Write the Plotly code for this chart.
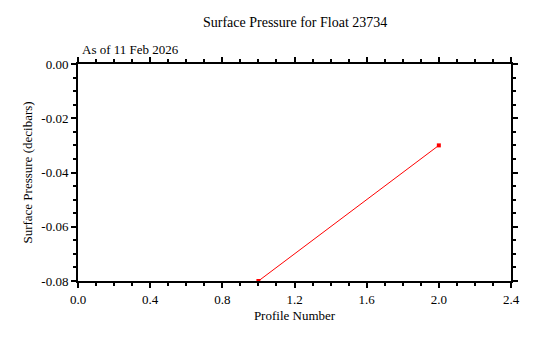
import plotly.graph_objects as go

profile_number = [1, 2]
surface_pressure = [-0.08, -0.03]

x_tick_vals = [0.0, 0.4, 0.8, 1.2, 1.6, 2.0, 2.4]
x_tick_text = ["0.0", "0.4", "0.8", "1.2", "1.6", "2.0", "2.4"]
y_tick_vals = [0.0, -0.02, -0.04, -0.06, -0.08]
y_tick_text = ["0.00", "-0.02", "-0.04", "-0.06", "-0.08"]

title_text = "Surface Pressure for Float 23734"
subtitle_text = "As of 11 Feb 2026"
x_title = "Profile Number"
y_title = "Surface Pressure (decibars)"

FONT = "Liberation Serif, Times New Roman, serif"

fig = go.Figure()
fig.add_trace(go.Scatter(
    x=profile_number, y=surface_pressure,
    mode="lines+markers",
    line=dict(color="#ff0000", width=1),
    marker=dict(color="#ff0000", size=4, symbol="square"),
    cliponaxis=False,
    showlegend=False,
))

axis_common = dict(
    showline=True, linecolor="black", linewidth=2,
    mirror="allticks", ticks="outside", ticklen=5, tickwidth=1.5, tickcolor="black",
    showgrid=False, zeroline=False,
    tickfont=dict(family=FONT, size=13, color="black"),
)

fig.update_layout(
    width=534, height=338,
    margin=dict(l=78, r=23, t=64, b=57),
    paper_bgcolor="white", plot_bgcolor="white",
    font=dict(family=FONT, size=13, color="black"),
    xaxis=dict(
        range=[0, 2.4], tickvals=x_tick_vals, ticktext=x_tick_text,
        minor=dict(dtick=0.1, tick0=0, ticks="outside", ticklen=3, tickcolor="black", tickwidth=1.5),
        title=dict(text=x_title, font=dict(family=FONT, size=13), standoff=5),
        **axis_common,
    ),
    yaxis=dict(
        range=[-0.08, 0], tickvals=y_tick_vals, ticktext=y_tick_text,
        minor=dict(dtick=0.005, tick0=0, ticks="outside", ticklen=3, tickcolor="black", tickwidth=1.5),
        title=dict(text=y_title, font=dict(family=FONT, size=13), standoff=6),
        **axis_common,
    ),
    annotations=[
        dict(text=title_text, xref="paper", yref="paper", x=0.5, y=1, yshift=42,
             xanchor="center", yanchor="middle", showarrow=False,
             font=dict(family=FONT, size=14, color="black")),
        dict(text=subtitle_text, xref="paper", yref="paper", x=0, xshift=2, y=1, yshift=15,
             xanchor="left", yanchor="middle", showarrow=False,
             font=dict(family=FONT, size=13, color="black")),
    ],
)

fig.write_html("out.html")
